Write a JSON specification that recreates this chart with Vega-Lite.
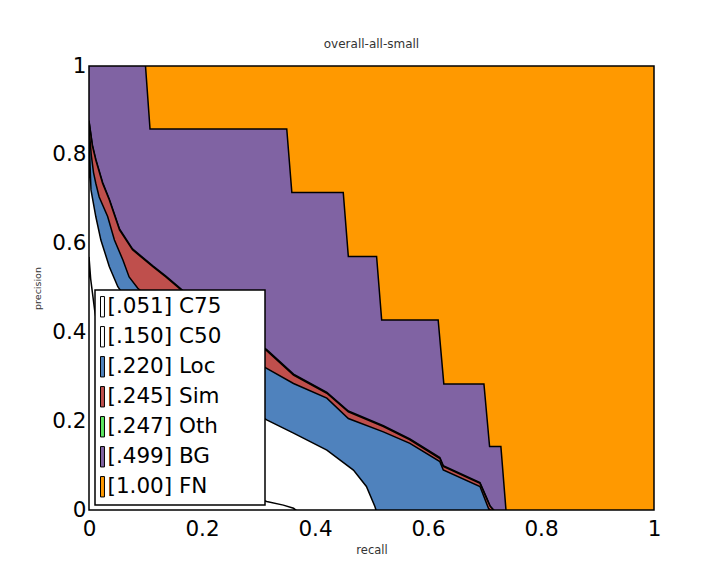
{
  "$schema": "https://vega.github.io/schema/vega-lite/v6.json",
  "width": 565,
  "height": 444,
  "autosize": {"type": "none"},
  "padding": {"left": 89, "top": 66, "right": 68, "bottom": 68},
  "background": "white",
  "title": {"text": "overall-all-small", "fontSize": 12, "fontWeight": "normal", "font": "DejaVu Sans", "color": "#333333", "offset": 4},
  "data": {"values": [
    {"s": "FN", "r": 0, "p": 1}, {"s": "FN", "r": 1, "p": 1},
    {"s": "BG", "r": 0, "p": 1}, {"s": "BG", "r": 0.1, "p": 1}, {"s": "BG", "r": 0.108, "p": 0.858}, {"s": "BG", "r": 0.35, "p": 0.858}, {"s": "BG", "r": 0.359, "p": 0.715}, {"s": "BG", "r": 0.45, "p": 0.715}, {"s": "BG", "r": 0.459, "p": 0.571}, {"s": "BG", "r": 0.509, "p": 0.571}, {"s": "BG", "r": 0.518, "p": 0.428}, {"s": "BG", "r": 0.618, "p": 0.428}, {"s": "BG", "r": 0.628, "p": 0.284}, {"s": "BG", "r": 0.699, "p": 0.284}, {"s": "BG", "r": 0.709, "p": 0.143}, {"s": "BG", "r": 0.729, "p": 0.143}, {"s": "BG", "r": 0.738, "p": 0},
    {"s": "Oth", "r": 0, "p": 0.877}, {"s": "Oth", "r": 0.006, "p": 0.822}, {"s": "Oth", "r": 0.012, "p": 0.79}, {"s": "Oth", "r": 0.024, "p": 0.738}, {"s": "Oth", "r": 0.036, "p": 0.7}, {"s": "Oth", "r": 0.054, "p": 0.633}, {"s": "Oth", "r": 0.077, "p": 0.588}, {"s": "Oth", "r": 0.113, "p": 0.55}, {"s": "Oth", "r": 0.136, "p": 0.527}, {"s": "Oth", "r": 0.16, "p": 0.501}, {"s": "Oth", "r": 0.2, "p": 0.457}, {"s": "Oth", "r": 0.25, "p": 0.412}, {"s": "Oth", "r": 0.29, "p": 0.382}, {"s": "Oth", "r": 0.3145, "p": 0.361}, {"s": "Oth", "r": 0.362, "p": 0.306}, {"s": "Oth", "r": 0.421, "p": 0.265}, {"s": "Oth", "r": 0.459, "p": 0.223}, {"s": "Oth", "r": 0.521, "p": 0.19}, {"s": "Oth", "r": 0.568, "p": 0.16}, {"s": "Oth", "r": 0.621, "p": 0.118}, {"s": "Oth", "r": 0.627, "p": 0.1}, {"s": "Oth", "r": 0.692, "p": 0.062}, {"s": "Oth", "r": 0.704, "p": 0.027}, {"s": "Oth", "r": 0.71, "p": 0.009}, {"s": "Oth", "r": 0.716, "p": 0},
    {"s": "Sim", "r": 0, "p": 0.875}, {"s": "Sim", "r": 0.006, "p": 0.82}, {"s": "Sim", "r": 0.012, "p": 0.788}, {"s": "Sim", "r": 0.024, "p": 0.736}, {"s": "Sim", "r": 0.036, "p": 0.698}, {"s": "Sim", "r": 0.054, "p": 0.631}, {"s": "Sim", "r": 0.077, "p": 0.586}, {"s": "Sim", "r": 0.113, "p": 0.548}, {"s": "Sim", "r": 0.136, "p": 0.525}, {"s": "Sim", "r": 0.16, "p": 0.499}, {"s": "Sim", "r": 0.2, "p": 0.455}, {"s": "Sim", "r": 0.25, "p": 0.41}, {"s": "Sim", "r": 0.29, "p": 0.38}, {"s": "Sim", "r": 0.3145, "p": 0.359}, {"s": "Sim", "r": 0.362, "p": 0.304}, {"s": "Sim", "r": 0.421, "p": 0.263}, {"s": "Sim", "r": 0.459, "p": 0.221}, {"s": "Sim", "r": 0.521, "p": 0.188}, {"s": "Sim", "r": 0.568, "p": 0.158}, {"s": "Sim", "r": 0.621, "p": 0.116}, {"s": "Sim", "r": 0.627, "p": 0.098}, {"s": "Sim", "r": 0.692, "p": 0.06}, {"s": "Sim", "r": 0.704, "p": 0.025}, {"s": "Sim", "r": 0.71, "p": 0.008}, {"s": "Sim", "r": 0.716, "p": 0},
    {"s": "Loc", "r": 0, "p": 0.862}, {"s": "Loc", "r": 0.004, "p": 0.8}, {"s": "Loc", "r": 0.008, "p": 0.76}, {"s": "Loc", "r": 0.012, "p": 0.736}, {"s": "Loc", "r": 0.018, "p": 0.705}, {"s": "Loc", "r": 0.033, "p": 0.661}, {"s": "Loc", "r": 0.045, "p": 0.608}, {"s": "Loc", "r": 0.06, "p": 0.563}, {"s": "Loc", "r": 0.071, "p": 0.525}, {"s": "Loc", "r": 0.086, "p": 0.5}, {"s": "Loc", "r": 0.12, "p": 0.46}, {"s": "Loc", "r": 0.17, "p": 0.42}, {"s": "Loc", "r": 0.22, "p": 0.385}, {"s": "Loc", "r": 0.27, "p": 0.35}, {"s": "Loc", "r": 0.3145, "p": 0.319}, {"s": "Loc", "r": 0.362, "p": 0.285}, {"s": "Loc", "r": 0.421, "p": 0.252}, {"s": "Loc", "r": 0.459, "p": 0.206}, {"s": "Loc", "r": 0.521, "p": 0.176}, {"s": "Loc", "r": 0.568, "p": 0.15}, {"s": "Loc", "r": 0.621, "p": 0.109}, {"s": "Loc", "r": 0.627, "p": 0.09}, {"s": "Loc", "r": 0.692, "p": 0.053}, {"s": "Loc", "r": 0.707, "p": 0.004}, {"s": "Loc", "r": 0.71, "p": 0},
    {"s": "C50", "r": 0, "p": 0.84}, {"s": "C50", "r": 0.0015, "p": 0.79}, {"s": "C50", "r": 0.0035, "p": 0.721}, {"s": "C50", "r": 0.012, "p": 0.661}, {"s": "C50", "r": 0.021, "p": 0.608}, {"s": "C50", "r": 0.036, "p": 0.548}, {"s": "C50", "r": 0.051, "p": 0.503}, {"s": "C50", "r": 0.08, "p": 0.45}, {"s": "C50", "r": 0.12, "p": 0.39}, {"s": "C50", "r": 0.17, "p": 0.33}, {"s": "C50", "r": 0.22, "p": 0.28}, {"s": "C50", "r": 0.27, "p": 0.24}, {"s": "C50", "r": 0.3145, "p": 0.203}, {"s": "C50", "r": 0.362, "p": 0.173}, {"s": "C50", "r": 0.421, "p": 0.135}, {"s": "C50", "r": 0.468, "p": 0.09}, {"s": "C50", "r": 0.491, "p": 0.053}, {"s": "C50", "r": 0.506, "p": 0.008}, {"s": "C50", "r": 0.508, "p": 0},
    {"s": "C75", "r": 0, "p": 0.57}, {"s": "C75", "r": 0.003, "p": 0.52}, {"s": "C75", "r": 0.006, "p": 0.49}, {"s": "C75", "r": 0.01, "p": 0.45}, {"s": "C75", "r": 0.03, "p": 0.3}, {"s": "C75", "r": 0.08, "p": 0.18}, {"s": "C75", "r": 0.15, "p": 0.1}, {"s": "C75", "r": 0.22, "p": 0.06}, {"s": "C75", "r": 0.28, "p": 0.035}, {"s": "C75", "r": 0.3145, "p": 0.019}, {"s": "C75", "r": 0.344, "p": 0.011}, {"s": "C75", "r": 0.362, "p": 0.004}, {"s": "C75", "r": 0.366, "p": 0}
  ]},
  "encoding": {
    "x": {"field": "r", "type": "quantitative", "scale": {"domain": [0, 1], "nice": false, "zero": false},
      "axis": {"title": "recall", "values": [0, 0.2, 0.4, 0.6, 0.8, 1], "format": "~g", "grid": false, "ticks": false, "domain": false,
        "labelFontSize": 21.5, "labelFont": "DejaVu Sans", "labelColor": "black", "labelPadding": 8, "labelOverlap": false, "labelFlush": false, "labelBound": false,
        "titleFontSize": 11.5, "titleFont": "DejaVu Sans", "titleFontWeight": "normal", "titleColor": "#333333", "titlePadding": 5}},
    "y": {"field": "p", "type": "quantitative", "scale": {"domain": [0, 1], "nice": false, "zero": false},
      "axis": {"title": "precision", "values": [0, 0.2, 0.4, 0.6, 0.8, 1], "format": "~g", "grid": false, "ticks": false, "domain": false,
        "labelFontSize": 21.5, "labelFont": "DejaVu Sans", "labelColor": "black", "labelPadding": 3, "labelOverlap": false, "labelFlush": false, "labelBound": false,
        "titleFontSize": 9.5, "titleFont": "DejaVu Sans", "titleFontWeight": "normal", "titleColor": "#333333", "titlePadding": 9}},
    "color": {"field": "s", "type": "nominal",
      "scale": {"domain": ["C75", "C50", "Loc", "Sim", "Oth", "BG", "FN"], "range": ["#ffffff", "#ffffff", "#4f82bd", "#bf4f4c", "#5ce661", "#8063a3", "#ff9900"]},
      "legend": {"title": "MMM", "titleOrient": "right", "titleColor": "white", "titleFontSize": 11, "titleFont": "DejaVu Sans", "titlePadding": 5,
        "orient": "none", "legendX": 6, "legendY": 224, "padding": 6,
        "fillColor": "white", "strokeColor": "black",
        "symbolType": "M-3.75,-3.4L-2.43,-3.4L-2.43,3.4L-3.75,3.4Z", "symbolSize": 36, "symbolStrokeColor": "black", "symbolStrokeWidth": 1, "symbolOpacity": 1,
        "labelFontSize": 21.5, "labelFont": "DejaVu Sans", "labelColor": "black", "labelOffset": -15, "rowPadding": 5, "labelLimit": 400,
        "labelExpr": "({'C75':'[.051] C75','C50':'[.150] C50','Loc':'[.220] Loc','Sim':'[.245] Sim','Oth':'[.247] Oth','BG':'[.499] BG','FN':'[1.00] FN'})[datum.label]"}}
  },
  "layer": [
    {"transform": [{"filter": "datum.s === 'FN'"}], "mark": {"type": "area", "stroke": "black", "strokeWidth": 1.5, "opacity": 1, "clip": true}},
    {"transform": [{"filter": "datum.s === 'BG'"}], "mark": {"type": "area", "stroke": "black", "strokeWidth": 1.5, "opacity": 1, "clip": true}},
    {"transform": [{"filter": "datum.s === 'Oth'"}], "mark": {"type": "area", "stroke": "black", "strokeWidth": 1.5, "opacity": 1, "clip": true}},
    {"transform": [{"filter": "datum.s === 'Sim'"}], "mark": {"type": "area", "stroke": "black", "strokeWidth": 1.5, "opacity": 1, "clip": true}},
    {"transform": [{"filter": "datum.s === 'Loc'"}], "mark": {"type": "area", "stroke": "black", "strokeWidth": 1.5, "opacity": 1, "clip": true}},
    {"transform": [{"filter": "datum.s === 'C50'"}], "mark": {"type": "area", "stroke": "black", "strokeWidth": 1.5, "opacity": 1, "clip": true}},
    {"transform": [{"filter": "datum.s === 'C75'"}], "mark": {"type": "area", "stroke": "black", "strokeWidth": 1.5, "opacity": 1, "clip": true}}
  ],
  "config": {
    "view": {"stroke": "black", "strokeWidth": 1.5},
    "legend": {"strokeWidth": 1.5}
  }
}
